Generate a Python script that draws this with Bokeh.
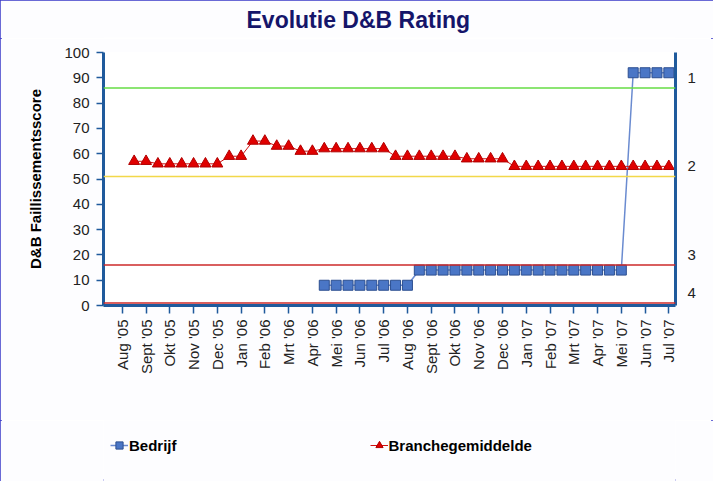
import numpy as np
from bokeh.plotting import figure
from bokeh.layouts import column
from bokeh.models import (Range1d, LinearAxis, FixedTicker, Span, Legend,
                          LegendItem, ColumnDataSource)
from bokeh.embed import file_html
from bokeh.resources import INLINE

# ---------------- data ----------------
months = ["Aug '05", "Sept '05", "Okt '05", "Nov '05", "Dec '05", "Jan '06",
          "Feb '06", "Mrt '06", "Apr '06", "Mei '06", "Jun '06", "Jul '06",
          "Aug '06", "Sept '06", "Okt '06", "Nov '06", "Dec '06", "Jan '07",
          "Feb '07", "Mrt '07", "Apr '07", "Mei '07", "Jun '07", "Jul '07"]

# semi-monthly observations (in months after Aug '05)
periods = [0.5 * k for k in range(1, 47)]

branchegemiddelde = [57, 57, 56, 56, 56, 56, 56, 56, 59, 59, 65, 65, 63, 63,
                     61, 61, 62, 62, 62, 62, 62, 62, 59, 59, 59, 59, 59, 59,
                     58, 58, 58, 58, 55, 55, 55, 55, 55, 55, 55, 55, 55, 55,
                     55, 55, 55, 55]

nan = float("nan")
bedrijf = [nan, nan, nan, nan, nan, nan, nan, nan, nan, nan, nan, nan, nan,
           nan, nan, nan, 8, 8, 8, 8, 8, 8, 8, 8, 14, 14, 14, 14, 14, 14, 14,
           14, 14, 14, 14, 14, 14, 14, 14, 14, 14, 14, 92, 92, 92, 92]

series_names = ["Bedrijf", "Branchegemiddelde"]
chart_title = "Evolutie D&B Rating"

# band thresholds and rating labels (right axis)
thresholds = [86, 51, 16, 1]
threshold_colors = ["#66dd44", "#f2d84a", "#cc2a2a", "#cc2a2a"]
rating_pos = [90, 55, 20, 5]
rating_labels = ["1", "2", "3", "4"]

# ---------------- styles ----------------
FONT = "Liberation Sans"
AXIS_BLUE = "#1f5a9c"
BG = "#fdfdff"
B_LINE = dict(line_color="#6a8bd0", line_width=1.5)
B_MARK = dict(marker="square", size=10, fill_color="#4a76c6",
              line_color="#2d4f90", line_width=1)
G_LINE = dict(line_color="#d01010", line_width=1)
G_MARK = dict(marker="triangle", size=11, fill_color="#e00000",
              line_color="#b00000", line_width=1)


def strip(height):
    f = figure(width=713, height=height, output_backend="svg",
               toolbar_location=None, x_range=Range1d(0, 1),
               y_range=Range1d(0, 1), tools="", min_border=0,
               min_border_left=0, min_border_right=0,
               min_border_top=0, min_border_bottom=0)
    f.axis.visible = False
    f.grid.visible = False
    f.outline_line_color = None
    f.background_fill_color = BG
    f.border_fill_color = BG
    return f


# ---------------- title strip ----------------
tf = strip(38)
tf.title.text = chart_title
tf.title.text_font = FONT
tf.title.text_font_size = "23px"
tf.title.text_font_style = "bold"
tf.title.text_color = "#15156a"
tf.title.align = "left"
tf.title.offset = 143
tf.title.standoff = 9

# ---------------- main figure ----------------
p = figure(width=713, height=382, output_backend="svg", toolbar_location=None,
           x_range=Range1d(-0.79, 23.28), y_range=Range1d(0, 100),
           min_border_left=103, min_border_right=38, min_border_top=14,
           min_border_bottom=115, tools="")
p.grid.visible = False
p.outline_line_color = None
p.background_fill_color = "white"
p.border_fill_color = BG

# left axis
ya = p.yaxis[0]
ya.ticker = FixedTicker(ticks=list(range(0, 101, 10)))
ya.axis_label = "D&B Faillissementsscore"
ya.axis_label_text_font = FONT
ya.axis_label_text_font_style = "bold"
ya.axis_label_text_font_size = "15px"
ya.axis_label_text_color = "black"
ya.axis_label_standoff = 17
ya.major_label_text_font = FONT
ya.major_label_text_font_size = "15px"
ya.major_label_text_color = "#222222"
ya.major_label_standoff = 7
ya.axis_line_color = AXIS_BLUE
ya.axis_line_width = 3
ya.major_tick_line_color = AXIS_BLUE
ya.major_tick_line_width = 1.5
ya.major_tick_out = 7
ya.major_tick_in = 0
ya.minor_tick_line_color = None

# bottom axis
xa = p.xaxis[0]
xa.ticker = FixedTicker(ticks=list(range(len(months))))
xa.major_label_overrides = {i: m for i, m in enumerate(months)}
xa.major_label_orientation = np.pi / 2
xa.major_label_text_font = FONT
xa.major_label_text_font_size = "15px"
xa.major_label_text_color = "#222222"
xa.major_label_standoff = 6
xa.axis_line_color = AXIS_BLUE
xa.axis_line_width = 3
xa.major_tick_line_color = AXIS_BLUE
xa.major_tick_line_width = 1.5
xa.major_tick_out = 8
xa.major_tick_in = 0
xa.minor_tick_line_color = None

# right axis with rating classes
ra = LinearAxis(ticker=FixedTicker(ticks=rating_pos),
                major_label_overrides={v: l for v, l in zip(rating_pos, rating_labels)})
ra.major_label_text_font = FONT
ra.major_label_text_font_size = "15px"
ra.major_label_text_color = "#222222"
ra.major_label_standoff = 6
ra.axis_line_color = AXIS_BLUE
ra.axis_line_width = 3
ra.major_tick_line_color = None
ra.minor_tick_line_color = None
p.add_layout(ra, "right")

# threshold lines
for t, c in zip(thresholds, threshold_colors):
    p.add_layout(Span(location=t, dimension="width", line_color=c, line_width=1.5))

src = ColumnDataSource(dict(x=periods, b=bedrijf, g=branchegemiddelde))
p.line("x", "b", source=src, **B_LINE)
p.scatter("x", "b", source=src, **B_MARK)
p.line("x", "g", source=src, **G_LINE)
p.scatter("x", "g", source=src, **G_MARK)

# ---------------- legend strip ----------------
lf = strip(61)

# legend-only renderers (a single missing value, nothing is drawn)
blank = ColumnDataSource(dict(x=[nan], y=[nan]))
r1 = lf.line("x", "y", source=blank, **B_LINE)
r2 = lf.scatter("x", "y", source=blank, **B_MARK)
r3 = lf.line("x", "y", source=blank, **G_LINE)
r4 = lf.scatter("x", "y", source=blank, **G_MARK)

legend = Legend(items=[LegendItem(label=series_names[0], renderers=[r1, r2]),
                       LegendItem(label=series_names[1], renderers=[r3, r4])],
                orientation="horizontal", location=(7, 27),
                spacing=193, padding=0, margin=0, glyph_width=18,
                glyph_height=18, label_standoff=1,
                border_line_color=None, background_fill_alpha=0)
legend.label_text_font = FONT
legend.label_text_font_style = "bold"
legend.label_text_font_size = "15px"
legend.label_text_color = "black"
lf.add_layout(legend, "center")

layout = column(tf, p, lf, spacing=0,
                styles={"outline": "2px solid #3838c8", "outline-offset": "-2px"})

open("out.html", "w").write(file_html(layout, INLINE))
